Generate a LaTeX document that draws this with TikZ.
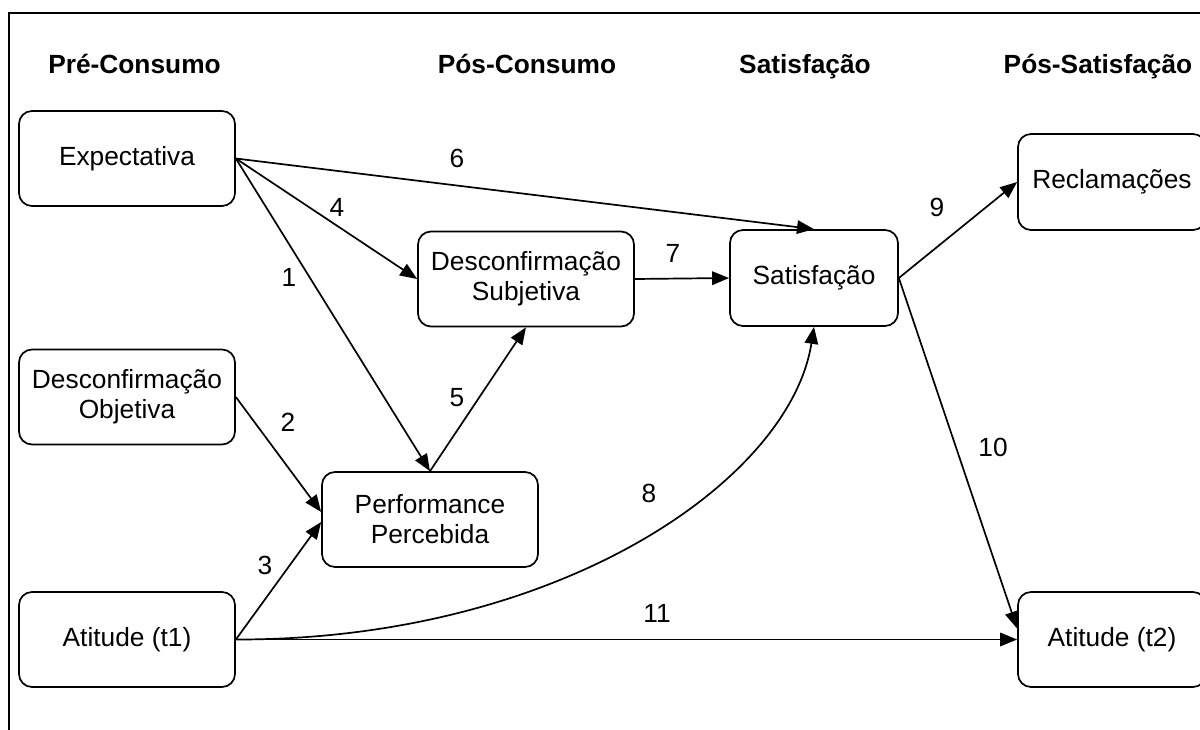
\documentclass[tikz,border=0pt]{standalone}
\usepackage{fontspec}
\setmainfont{Liberation Sans}
\usetikzlibrary{arrows.meta,calc}
\begin{document}
\begin{tikzpicture}[x=1pt,y=-1pt,
  box/.style={draw,line width=1.7pt,rounded corners=13pt,minimum width=216pt,
    minimum height=95pt,inner sep=0pt,align=center,
    font=\fontsize{26.3}{30}\selectfont},
  phase/.style={font=\fontsize{26.3}{30}\selectfont\bfseries,inner sep=0pt,anchor=base},
  num/.style={font=\fontsize{26.3}{30}\selectfont,inner sep=0pt},
  link/.style={line width=1.7pt,-{Triangle[length=17pt,width=13.5pt]}},
  frameline/.style={line width=1.7pt}]
\useasboundingbox (0,0) rectangle (1200,729);
\clip (0,0) rectangle (1200,729);

% outer frame (open towards right and bottom)
\draw[frameline] (9,760) -- (9,13) -- (1230,13);

% phase headings
\node[phase] (hpre)  at (134.5,73) {Pré-Consumo};
\node[phase] (hpos)  at (527,73)   {Pós-Consumo};
\node[phase] (hsat)  at (805,73)   {Satisfação};
\node[phase] (hposs) at (1098,73)  {Pós-Satisfação};

% constructs
\node[box] (exp)  at (127,158.5) {Expectativa};
\node[box] (dobj) at (127,397)   {Desconfirmação\\Objetiva};
\node[box] (at1)  at (127,639.5) {Atitude (t1)};
\node[box] (dsub) at (526,279)   {Desconfirmação\\Subjetiva};
\node[box] (perf) at (430,519.5) {Performance\\Percebida};
\node[box,minimum width=168pt,minimum height=96pt] (sat) at (814,278) {Satisfação};
\node[box,minimum width=188pt,minimum height=96pt] (recl) at (1112,182) {Reclamações};
\node[box,minimum width=188pt] (at2) at (1112,639.5) {Atitude (t2)};

% relations
\draw[link] (exp.east) -- (perf.north);
\draw[link] (dobj.east) -- ($(perf.west)+(0,-7.5)$);
\draw[link] (at1.east) -- ($(perf.west)+(0,2.5)$);
\draw[link] (exp.east) -- (dsub.west);
\draw[link] (perf.north) -- (dsub.south);
\draw[link] (exp.east) -- (sat.north);
\draw[link] (dsub.east) -- (sat.west);
\draw[link] (at1.east) .. controls (560,640) and (790,480) .. (sat.south);
\draw[link] (sat.east) -- (recl.west);
\draw[link] (sat.east) -- ($(at2.west)+(0,-11)$);
\draw[link] (at1.east) -- (at2.west);

% relation numbers
\node[num] (n1)  at (289,277) {1};
\node[num] (n2)  at (288,422) {2};
\node[num] (n3)  at (265,565) {3};
\node[num] (n4)  at (337,207) {4};
\node[num] (n5)  at (457,398) {5};
\node[num] (n6)  at (457,158) {6};
\node[num] (n7)  at (673,253) {7};
\node[num] (n8)  at (649,493) {8};
\node[num] (n9)  at (937,207) {9};
\node[num] (n10) at (993,447) {10};
\node[num] (n11) at (657,613) {11};
\end{tikzpicture}
\end{document}
